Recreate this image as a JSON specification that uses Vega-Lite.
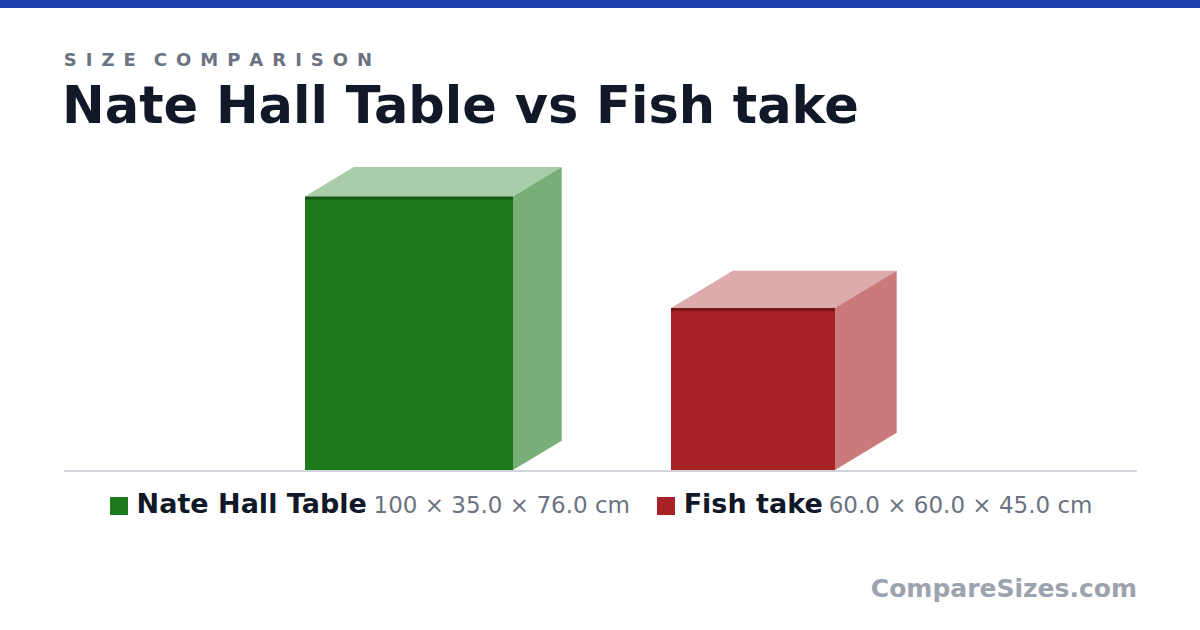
{
  "$schema": "https://vega.github.io/schema/vega-lite/v6.json",
  "width": 1200,
  "height": 630,
  "padding": 0,
  "autosize": {"type": "none"},
  "background": "white",
  "config": {
    "view": {"stroke": null},
    "font": "DejaVu Sans",
    "legend": {"disable": true}
  },
  "datasets": {
    "boxes": [
      {"item": "Nate Hall Table", "w": 100, "d": 35, "h": 76, "left": 84.72, "right": 142.5,
       "dims": "100 × 35.0 × 76.0 cm", "key_x": 33.06, "name_x": 37.95, "dims_x": 103.75},
      {"item": "Fish take", "w": 60, "d": 60, "h": 45, "left": 186.39, "right": 231.94,
       "dims": "60.0 × 60.0 × 45.0 cm", "key_x": 185.0, "name_x": 189.9, "dims_x": 230.2}
    ],
    "side": [
      {"item": "Nate Hall Table", "x": 142.5, "top": 76, "bottom": 0},
      {"item": "Nate Hall Table", "x": 156.03, "top": 84.14, "bottom": 8.14},
      {"item": "Fish take", "x": 231.94, "top": 45, "bottom": 0},
      {"item": "Fish take", "x": 249.08, "top": 55.36, "bottom": 10.36}
    ],
    "top": [
      {"item": "Nate Hall Table", "y": 76, "left": 84.72, "right": 142.5},
      {"item": "Nate Hall Table", "y": 84.14, "left": 98.25, "right": 156.03},
      {"item": "Fish take", "y": 45, "left": 186.39, "right": 231.94},
      {"item": "Fish take", "y": 55.36, "left": 203.53, "right": 249.08}
    ],
    "one": [{}]
  },
  "layer": [
    {
      "data": {"name": "one"},
      "mark": {"type": "rect", "color": "#1e40af"},
      "encoding": {
        "x": {"datum": 0, "type": "quantitative", "scale": {"domain": [0, 333.333], "nice": false, "zero": false}, "axis": null},
        "x2": {"datum": 333.333},
        "y": {"datum": 130.556, "type": "quantitative", "scale": {"domain": [-44.444, 130.556], "nice": false, "zero": false}, "axis": null},
        "y2": {"datum": 128.33}
      }
    },
    {
      "data": {"name": "one"},
      "mark": {"type": "rule", "color": "#d1d5db", "strokeWidth": 2, "yOffset": 1},
      "encoding": {
        "x": {"datum": 17.78, "type": "quantitative", "scale": {"domain": [0, 333.333], "nice": false, "zero": false}, "axis": null},
        "x2": {"datum": 315.83},
        "y": {"datum": 0, "type": "quantitative", "scale": {"domain": [-44.444, 130.556], "nice": false, "zero": false}, "axis": null}
      }
    },
    {
      "data": {"name": "boxes"},
      "mark": {"type": "rect"},
      "encoding": {
        "x": {"field": "left", "type": "quantitative", "scale": {"domain": [0, 333.333], "nice": false, "zero": false}, "axis": null},
        "x2": {"field": "right"},
        "y": {"field": "h", "type": "quantitative", "scale": {"domain": [-44.444, 130.556], "nice": false, "zero": false}, "axis": null},
        "y2": {"datum": 0},
        "color": {"field": "item", "type": "nominal", "scale": {"domain": ["Nate Hall Table", "Fish take"], "range": ["#1c7a1c", "#a82225"]}}
      }
    },
    {
      "data": {"name": "side"},
      "mark": {"type": "area", "opacity": 0.6, "orient": "vertical"},
      "encoding": {
        "x": {"field": "x", "type": "quantitative", "scale": {"domain": [0, 333.333], "nice": false, "zero": false}, "axis": null},
        "y": {"field": "top", "type": "quantitative", "scale": {"domain": [-44.444, 130.556], "nice": false, "zero": false}, "axis": null},
        "y2": {"field": "bottom"},
        "color": {"field": "item", "type": "nominal", "scale": {"domain": ["Nate Hall Table", "Fish take"], "range": ["#1c7a1c", "#a82225"]}}
      }
    },
    {
      "data": {"name": "top"},
      "mark": {"type": "area", "opacity": 0.38, "orient": "horizontal"},
      "encoding": {
        "y": {"field": "y", "type": "quantitative", "scale": {"domain": [-44.444, 130.556], "nice": false, "zero": false}, "axis": null},
        "x": {"field": "left", "type": "quantitative", "scale": {"domain": [0, 333.333], "nice": false, "zero": false}, "axis": null},
        "x2": {"field": "right"},
        "color": {"field": "item", "type": "nominal", "scale": {"domain": ["Nate Hall Table", "Fish take"], "range": ["#1c7a1c", "#a82225"]}}
      }
    },
    {
      "data": {"name": "boxes"},
      "mark": {"type": "rule", "color": "black", "opacity": 0.3, "strokeWidth": 3, "yOffset": 1.5},
      "encoding": {
        "x": {"field": "left", "type": "quantitative", "scale": {"domain": [0, 333.333], "nice": false, "zero": false}, "axis": null},
        "x2": {"field": "right"},
        "y": {"field": "h", "type": "quantitative", "scale": {"domain": [-44.444, 130.556], "nice": false, "zero": false}, "axis": null}
      }
    },
    {
      "data": {"name": "boxes"},
      "mark": {"type": "square", "size": 324, "filled": true, "opacity": 1},
      "encoding": {
        "x": {"field": "key_x", "type": "quantitative", "scale": {"domain": [0, 333.333], "nice": false, "zero": false}, "axis": null},
        "y": {"datum": -10, "type": "quantitative", "scale": {"domain": [-44.444, 130.556], "nice": false, "zero": false}, "axis": null},
        "color": {"field": "item", "type": "nominal", "scale": {"domain": ["Nate Hall Table", "Fish take"], "range": ["#1c7a1c", "#a82225"]}}
      }
    },
    {
      "data": {"name": "boxes"},
      "mark": {"type": "text", "align": "left", "baseline": "alphabetic", "fontSize": 27, "fontWeight": "bold", "color": "#111827"},
      "encoding": {
        "x": {"field": "name_x", "type": "quantitative", "scale": {"domain": [0, 333.333], "nice": false, "zero": false}, "axis": null},
        "y": {"datum": -11.86, "type": "quantitative", "scale": {"domain": [-44.444, 130.556], "nice": false, "zero": false}, "axis": null},
        "text": {"field": "item"}
      }
    },
    {
      "data": {"name": "boxes"},
      "mark": {"type": "text", "align": "left", "baseline": "alphabetic", "fontSize": 23, "color": "#6b7280"},
      "encoding": {
        "x": {"field": "dims_x", "type": "quantitative", "scale": {"domain": [0, 333.333], "nice": false, "zero": false}, "axis": null},
        "y": {"datum": -11.86, "type": "quantitative", "scale": {"domain": [-44.444, 130.556], "nice": false, "zero": false}, "axis": null},
        "text": {"field": "dims"}
      }
    },
    {
      "data": {"name": "one"},
      "mark": {"type": "text", "align": "left", "baseline": "alphabetic", "fontSize": 18, "fontWeight": "bold", "color": "#6b7280"},
      "encoding": {
        "x": {"datum": 17.7, "type": "quantitative", "scale": {"domain": [0, 333.333], "nice": false, "zero": false}, "axis": null},
        "y": {"datum": 112.31, "type": "quantitative", "scale": {"domain": [-44.444, 130.556], "nice": false, "zero": false}, "axis": null},
        "text": {"value": "S\u2002I\u2002Z\u2002E\u2002\u2002C\u2002O\u2002M\u2002P\u2002A\u2002R\u2002I\u2002S\u2002O\u2002N"}
      }
    },
    {
      "data": {"name": "one"},
      "mark": {"type": "text", "align": "left", "baseline": "alphabetic", "fontSize": 51, "fontWeight": "bold", "color": "#111827"},
      "encoding": {
        "x": {"datum": 17.25, "type": "quantitative", "scale": {"domain": [0, 333.333], "nice": false, "zero": false}, "axis": null},
        "y": {"datum": 96.39, "type": "quantitative", "scale": {"domain": [-44.444, 130.556], "nice": false, "zero": false}, "axis": null},
        "text": {"value": "Nate Hall Table vs Fish take"}
      }
    },
    {
      "data": {"name": "one"},
      "mark": {"type": "text", "align": "right", "baseline": "alphabetic", "fontSize": 25, "fontWeight": "bold", "color": "#9ca3af"},
      "encoding": {
        "x": {"datum": 315.83, "type": "quantitative", "scale": {"domain": [0, 333.333], "nice": false, "zero": false}, "axis": null},
        "y": {"datum": -35.36, "type": "quantitative", "scale": {"domain": [-44.444, 130.556], "nice": false, "zero": false}, "axis": null},
        "text": {"value": "CompareSizes.com"}
      }
    }
  ]
}
